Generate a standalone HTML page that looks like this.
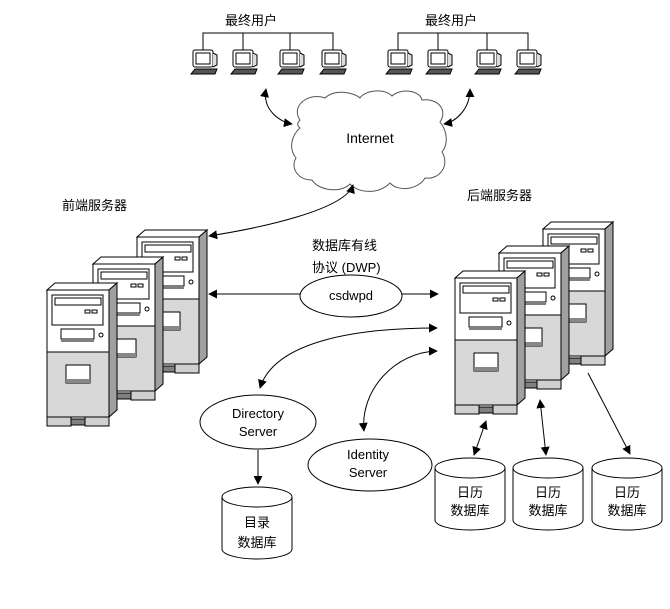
<!DOCTYPE html>
<html><head><meta charset="utf-8"><style>
html,body{margin:0;padding:0;background:#fff;}
svg{display:block;}
text{font-family:"Liberation Sans","Noto Sans CJK SC",sans-serif;fill:#000;}
</style></head><body>
<svg width="670" height="609" viewBox="0 0 670 609" xmlns="http://www.w3.org/2000/svg">
<defs>
<marker id="a" viewBox="0 0 10 10" refX="9" refY="5" markerWidth="9" markerHeight="9" orient="auto-start-reverse" markerUnits="userSpaceOnUse"><path d="M0,0 L10,5 L0,10 z" fill="#000"/></marker>
<g id="srv" stroke="#000" stroke-width="1">
<polygon points="0,8 8,1 70,1 62,8" fill="#fff"/>
<rect x="0" y="8" width="62" height="62" fill="#fff"/>
<rect x="0" y="70" width="62" height="65" fill="#d8d8d8"/>
<polygon points="62,8 70,1 70,128 62,135" fill="#a0a0a0"/>
<rect x="0" y="135" width="24" height="9" fill="#d0d0d0"/>
<rect x="24" y="137" width="14" height="6" fill="#808080"/>
<rect x="38" y="135" width="24" height="9" fill="#d0d0d0"/>
<rect x="5" y="13" width="51" height="30" fill="#fff"/>
<rect x="8" y="16" width="46" height="7" fill="#fff"/>
<rect x="38" y="28" width="5" height="3" fill="#fff"/>
<rect x="45" y="28" width="5" height="3" fill="#fff"/>
<rect x="14" y="47" width="33" height="10" fill="#fff"/>
<line x1="14" y1="59" x2="47" y2="59"/>
<circle cx="54" cy="53" r="2" fill="#fff"/>
<rect x="19" y="83" width="24" height="18" fill="#fff"/>
<rect x="19" y="97" width="24" height="4" fill="#888" stroke="none"/>
</g>
<g id="pc" stroke="#000" stroke-width="1">
<rect x="2" y="0" width="20" height="17" rx="2" fill="#fff"/>
<rect x="5" y="3" width="14" height="11" fill="#fff"/>
<path d="M22,3 L26,5 L26,15 L22,17" fill="#ddd"/>
<polygon points="0,24 4,19 26,19 24,24" fill="#555"/>
</g>
<g id="cyl" stroke="#000" stroke-width="1" fill="#fff">
<path d="M0,10 L0,62 A35,10 0 0 0 70,62 L70,10"/>
<ellipse cx="35" cy="10" rx="35" ry="10"/>
</g>
</defs>

<text x="225" y="25" font-size="13">最终用户</text>
<text x="425" y="25" font-size="13">最终用户</text>
<g stroke="#000" fill="none">
<path d="M203,50 V33 H333 V50 M243,33 V50 M290,33 V50"/>
<path d="M398,50 V33 H528 V50 M438,33 V50 M487,33 V50"/>
</g>
<use href="#pc" x="191" y="50"/><use href="#pc" x="231" y="50"/><use href="#pc" x="278" y="50"/><use href="#pc" x="320" y="50"/>
<use href="#pc" x="386" y="50"/><use href="#pc" x="426" y="50"/><use href="#pc" x="475" y="50"/><use href="#pc" x="515" y="50"/>

<path d="M300,120 C290,105 310,92 325,98 C335,88 355,93 360,98 C365,90 385,88 392,96 C400,88 420,90 422,100 C438,98 448,110 440,122 C448,132 448,145 442,152 C450,165 440,180 425,178 C418,190 398,192 390,183 C378,195 358,193 350,184 C340,194 318,190 312,180 C298,180 290,168 296,158 C288,148 292,135 300,128 C296,125 298,122 300,120 Z" fill="#fff" stroke="#555"/>
<text x="370" y="143" font-size="14" text-anchor="middle">Internet</text>

<g stroke="#000" fill="none" marker-start="url(#a)" marker-end="url(#a)">
<path d="M266,89 C262,110 280,122 292,124"/>
<path d="M470,89 C470,110 455,122 444,124"/>
<path d="M353,185 C345,210 260,228 209,236"/>
<path d="M260,388 C275,340 360,328 437,328"/>
<path d="M364,431 C360,390 395,352 437,351"/>
<path d="M486,421 L474,455"/>
<path d="M540,400 L546,455"/>
</g>
<g stroke="#000" fill="none" marker-end="url(#a)">
<path d="M300,294 H209"/>
<path d="M402,294 H438"/>
<path d="M588,373 L630,454"/>
<path d="M258,450 V484"/>
</g>

<text x="62" y="210" font-size="13">前端服务器</text>
<text x="467" y="200" font-size="13">后端服务器</text>
<use href="#srv" x="137" y="229"/>
<use href="#srv" x="93" y="256"/>
<use href="#srv" x="47" y="282"/>
<use href="#srv" x="543" y="221"/>
<use href="#srv" x="499" y="245"/>
<use href="#srv" x="455" y="270"/>

<text x="312" y="250" font-size="13">数据库有线</text>
<text x="312" y="272" font-size="13">协议 (DWP)</text>
<ellipse cx="351" cy="296" rx="51" ry="21" fill="#fff" stroke="#000"/>
<text x="351" y="300" font-size="13" text-anchor="middle">csdwpd</text>

<ellipse cx="258" cy="422" rx="58" ry="27" fill="#fff" stroke="#000"/>
<text x="258" y="418" font-size="13" text-anchor="middle">Directory</text>
<text x="258" y="436" font-size="13" text-anchor="middle">Server</text>
<ellipse cx="370" cy="465" rx="62" ry="26" fill="#fff" stroke="#000"/>
<text x="368" y="459" font-size="13" text-anchor="middle">Identity</text>
<text x="368" y="477" font-size="13" text-anchor="middle">Server</text>

<use href="#cyl" x="222" y="487"/>
<text x="257" y="527" font-size="13" text-anchor="middle">目录</text>
<text x="257" y="547" font-size="13" text-anchor="middle">数据库</text>
<use href="#cyl" x="435" y="458"/>
<use href="#cyl" x="513" y="458"/>
<use href="#cyl" x="592" y="458"/>
<text x="470" y="497" font-size="13" text-anchor="middle">日历</text>
<text x="470" y="515" font-size="13" text-anchor="middle">数据库</text>
<text x="548" y="497" font-size="13" text-anchor="middle">日历</text>
<text x="548" y="515" font-size="13" text-anchor="middle">数据库</text>
<text x="627" y="497" font-size="13" text-anchor="middle">日历</text>
<text x="627" y="515" font-size="13" text-anchor="middle">数据库</text>
</svg>
</body></html>
